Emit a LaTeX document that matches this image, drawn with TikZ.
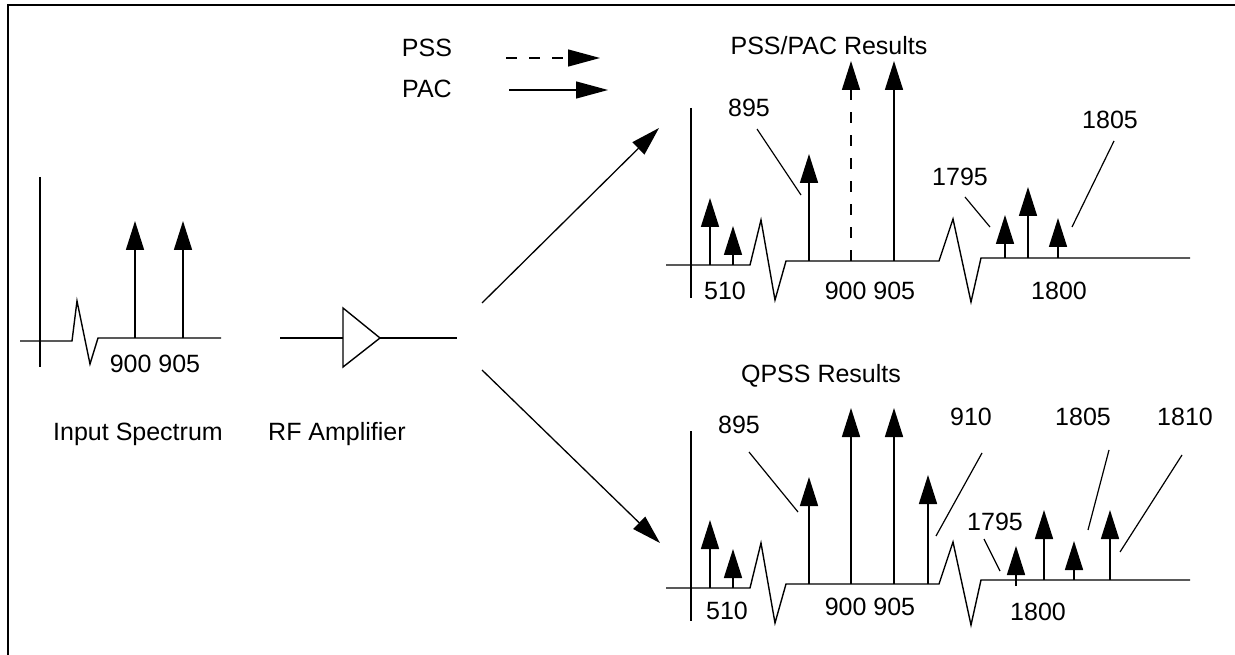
\documentclass[tikz,border=0pt]{standalone}
\usepackage{fontspec}
\setmainfont{Liberation Sans}
\usetikzlibrary{arrows.meta}

\tikzset{
  wire/.style={line width=1.4pt},
  spike/.style={line width=1.6pt,-{Triangle[length=29pt,width=18pt]}},
  pssspike/.style={spike,dash pattern=on 11pt off 12pt},
  leader/.style={line width=1.2pt},
  branch/.style={line width=1.3pt,-{Triangle[length=29pt,width=17pt]}},
  lbl/.style={anchor=base,inner sep=0pt,font=\fontsize{25}{30}\selectfont},
}

\begin{document}
\begin{tikzpicture}[x=1pt,y=-1pt]
\useasboundingbox (0,0) rectangle (1235,655);
\draw [line width=2.5pt] (8,655) -- (8,5) -- (1235,5);

% input spectrum
\draw [wire] (40,177) -- (40,367);
\draw [wire] (20,341) -- (72,341) -- (77,301) -- (90,364) -- (98,338) -- (221,338);
\draw [spike] (135,338) -- (135,221);
\draw [spike] (183,338) -- (183,221);
\node [lbl] (infreq) at (155,372) {900 905};
\node [lbl] (inlbl) at (138,440) {Input Spectrum};

% amplifier
\coordinate (ampin) at (280,338);
\coordinate (ampout) at (457,338);
\draw [wire] (ampin) -- (343,338);
\draw [wire] (343,308) -- (380,338) -- (343,367) -- cycle;
\draw [wire] (380,338) -- (ampout);
\node [lbl] (amplbl) at (337,440) {RF Amplifier};

% branches
\coordinate (upstart) at (482,303);
\coordinate (upend) at (659,128);
\coordinate (downstart) at (482,370);
\coordinate (downend) at (660,543);
\draw [branch] (upstart) -- (upend);
\draw [branch] (downstart) -- (downend);

% legend
\node [lbl] (psslbl) at (427,57) {PSS};
\node [lbl] (paclbl) at (427,98) {PAC};
\coordinate (pssa) at (506,58);
\coordinate (pssb) at (600,58);
\coordinate (paca) at (509,90);
\coordinate (pacb) at (608,90);
\draw [branch,line width=1.4pt,dash pattern=on 11pt off 12pt,-{Triangle[length=32pt,width=17pt]}] (pssa) -- (pssb);
\draw [branch,line width=1.4pt,-{Triangle[length=32pt,width=17pt]}] (paca) -- (pacb);

% PSS/PAC results
\node [lbl] (toptitle) at (829,55) {PSS/PAC Results};
\draw [wire] (691,108) -- (691,298);
\draw [wire] (666,265) -- (750,265) -- (761,220) -- (775,300) -- (786,261) -- (939,261)
  -- (953,219) -- (971,302) -- (981,258) -- (1190,258);
\draw [spike] (710,265) -- (710,198);
\draw [spike] (733,265) -- (733,226);
\draw [spike] (809,261) -- (809,154);
\draw [pssspike] (851,261) -- (851,61);
\draw [spike] (894,261) -- (894,61);
\draw [spike] (1005,258) -- (1005,215);
\draw [spike] (1028,258) -- (1028,187);
\draw [spike] (1058,258) -- (1058,218);
\node [lbl] (t510) at (725,300) {510};
\node [lbl] (t900) at (870,300) {900 905};
\node [lbl] (t1800) at (1059,300) {1800};
\node [lbl] (t895) at (749,117) {895};
\node [lbl] (t1795) at (960,186) {1795};
\node [lbl] (t1805) at (1110,129) {1805};
\draw [leader] (757,129) -- (801,195);
\draw [leader] (965,197) -- (990,227);
\draw [leader] (1114,141) -- (1072,227);

% QPSS results
\node [lbl] (bottitle) at (821,382) {QPSS Results};
\draw [wire] (691,431) -- (691,621);
\draw [wire] (666,588) -- (750,588) -- (761,543) -- (775,623) -- (786,584) -- (939,584)
  -- (953,542) -- (971,625) -- (981,580) -- (1190,580);
\draw [spike] (710,588) -- (710,520);
\draw [spike] (733,588) -- (733,549);
\draw [spike] (809,584) -- (809,477);
\draw [spike] (851,584) -- (851,408);
\draw [spike] (894,584) -- (894,408);
\draw [spike] (928,584) -- (928,475);
\draw [spike] (1016,586) -- (1016,546);
\draw [spike] (1044,580) -- (1044,510);
\draw [spike] (1074,580) -- (1074,541);
\draw [spike] (1110,580) -- (1110,510);
\node [lbl] (b510) at (727,619) {510};
\node [lbl] (b900) at (870,615) {900 905};
\node [lbl] (b1800) at (1038,620) {1800};
\node [lbl] (b895) at (739,433) {895};
\node [lbl] (b910) at (971,425) {910};
\node [lbl] (b1805) at (1083,425) {1805};
\node [lbl] (b1810) at (1185,425) {1810};
\node [lbl] (b1795) at (995,530) {1795};
\draw [leader] (749,452) -- (798,512);
\draw [leader] (982,453) -- (936,536);
\draw [leader] (984,539) -- (1000,571);
\draw [leader] (1109,450) -- (1088,530);
\draw [leader] (1182,455) -- (1120,552);
\end{tikzpicture}
\end{document}
